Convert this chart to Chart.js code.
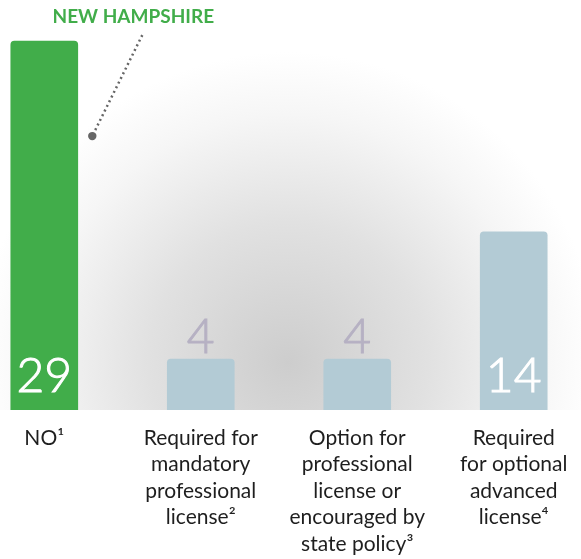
<!DOCTYPE html>
<html>
<head>
<meta charset="utf-8">
<script src="https://cdn.jsdelivr.net/npm/chart.js@4"></script>
<style>
  html, body { margin: 0; padding: 0; background: #fff; }
  #wrap { width: 581px; height: 559px; }
</style>
</head>
<body>
<div id="wrap"><canvas id="licenseChart"></canvas></div>
<script>
const categories = [
  ["NO¹"],
  ["Required for", "mandatory", "professional", "license²"],
  ["Option for", "professional", "license or", "encouraged by", "state policy³"],
  ["Required", "for optional", "advanced", "license⁴"],
];
const stateCounts = [29, 4, 4, 14];
const barColors = ["#41ad4a", "#b3cbd5", "#b3cbd5", "#b3cbd5"];
const highlightLabel = "NEW HAMPSHIRE";

const FONT = "Lato, 'Open Sans', sans-serif";

// soft grey glow behind the bars
const glowPlugin = {
  id: "glow",
  beforeDatasetsDraw(chart) {
    const { ctx, chartArea } = chart;
    const cx = 288, cy = 362;
    const g = ctx.createRadialGradient(cx, cy, 0, cx, cy, 310);
    g.addColorStop(0, "#cdcdcd");
    g.addColorStop(0.45, "#e1e1e1");
    g.addColorStop(0.8, "#f6f6f6");
    g.addColorStop(1, "#ffffff");
    ctx.save();
    ctx.fillStyle = g;
    ctx.fillRect(0, 0, chart.width, chartArea.bottom);
    ctx.restore();
  },
};

// big numbers inside / above each bar
const valueLabels = {
  id: "valueLabels",
  afterDatasetsDraw(chart) {
    const { ctx } = chart;
    const meta = chart.getDatasetMeta(0);
    ctx.save();
    ctx.font = "300 48px " + FONT;
    ctx.textAlign = "center";
    ctx.textBaseline = "alphabetic";
    ctx.lineWidth = 1;
    meta.data.forEach((bar, i) => {
      const v = stateCounts[i];
      const inside = v >= 10;
      const y = inside ? bar.base - 18 : bar.y - 6;
      ctx.fillStyle = ctx.strokeStyle = inside ? "#ffffff" : "#b6b1c3";
      ctx.fillText(String(v), bar.x, y);
      ctx.strokeText(String(v), bar.x, y);
    });
    ctx.restore();
  },
};

// state callout with dotted leader
const callout = {
  id: "callout",
  afterDraw(chart) {
    const { ctx } = chart;
    const bar = chart.getDatasetMeta(0).data[0];
    ctx.save();
    ctx.fillStyle = "#41ad4a";
    ctx.font = "bold 19px " + FONT;
    ctx.textAlign = "center";
    ctx.textBaseline = "middle";
    ctx.fillText(highlightLabel, bar.x + 89, bar.y - 24);

    ctx.strokeStyle = "#666666";
    ctx.lineWidth = 2.5;
    ctx.setLineDash([2, 3.2]);
    ctx.beginPath();
    ctx.moveTo(bar.x + 98, bar.y - 6);
    ctx.lineTo(bar.x + 49, bar.y + 93);
    ctx.stroke();
    ctx.setLineDash([]);
    ctx.fillStyle = "#666666";
    ctx.beginPath();
    ctx.arc(bar.x + 48, bar.y + 95, 4.2, 0, Math.PI * 2);
    ctx.fill();
    ctx.restore();
  },
};

new Chart(document.getElementById("licenseChart"), {
  type: "bar",
  data: {
    datasets: [
      {
        data: stateCounts.map((v, i) => ({ x: i, y: v })),
        backgroundColor: barColors,
        borderRadius: { topLeft: 4, topRight: 4 },
        borderSkipped: "start",
        barThickness: 67,
      },
    ],
  },
  options: {
    responsive: true,
    maintainAspectRatio: false,
    animation: false,
    layout: { padding: 0 },
    scales: {
      x: {
        type: "linear",
        offset: false,
        min: -0.283,
        max: 3.43,
        grid: { display: false, drawTicks: false },
        border: { display: false },
        afterBuildTicks(scale) {
          scale.ticks = categories.map((_, i) => ({ value: i }));
        },
        afterFit(scale) {
          scale.height = 149;
          scale.paddingLeft = 0;
          scale.paddingRight = 0;
        },
        ticks: {
          autoSkip: false,
          maxRotation: 0,
          padding: 15,
          color: "#1e1e1e",
          font: { family: FONT, size: 21, lineHeight: 1.26 },
          callback(value) {
            return categories[value] || "";
          },
        },
      },
      y: {
        display: false,
        min: 0,
        max: 32.23,
      },
    },
    plugins: {
      legend: { display: false },
      tooltip: { enabled: false },
    },
  },
  plugins: [glowPlugin, valueLabels, callout],
});
</script>
</body>
</html>
